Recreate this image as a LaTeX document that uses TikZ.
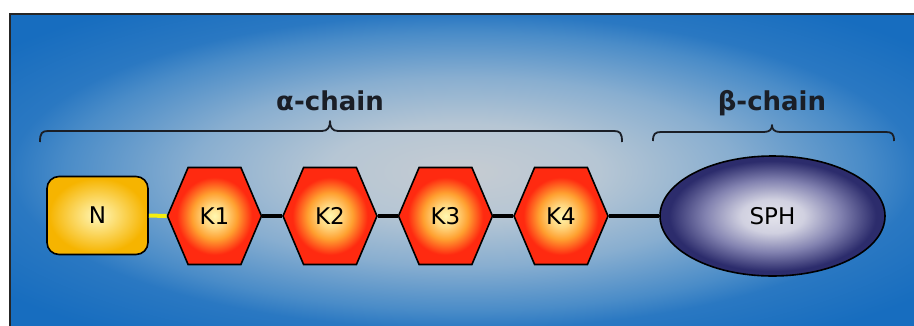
\documentclass[tikz,border=0pt]{standalone}
\usepackage{fontspec}
\setmainfont{DejaVu Sans}
\usetikzlibrary{shapes.symbols,shapes.geometric}

% colours
\definecolor{bgcentre}{HTML}{C6CCD2}
\definecolor{bglight}{HTML}{B6C6D4}
\definecolor{bgmid}{HTML}{88AED0}
\definecolor{bgblue}{HTML}{4A8CC8}
\definecolor{bgdeep}{HTML}{2A78C2}
\definecolor{bgedge}{HTML}{176DBF}
\definecolor{kin}{HTML}{FFF8B0}
\definecolor{kmid}{HTML}{FFA030}
\definecolor{kout}{HTML}{FF2A10}
\definecolor{nin}{HTML}{FFF7B8}
\definecolor{nout}{HTML}{F6B400}
\definecolor{sin}{HTML}{E4E4EC}
\definecolor{smid}{HTML}{8282B0}
\definecolor{sout}{HTML}{2C2C6C}
\definecolor{ink}{HTML}{1A1E26}
\definecolor{linkyellow}{HTML}{F4EE10}

% shadings (the path's bounding box edge sits at 25bp)
\pgfdeclareradialshading{bgshade}{\pgfpoint{0bp}{0bp}}{%
  color(0bp)=(bgcentre); color(7.5bp)=(bglight);
  color(15bp)=(bgmid); color(22bp)=(bgblue); color(25bp)=(bgdeep);
  color(32bp)=(bgedge); color(50bp)=(bgedge)}
\pgfdeclareradialshading{kringle}{\pgfpoint{0bp}{0bp}}{%
  color(0bp)=(kin); color(6bp)=(kin!60!kmid); color(12bp)=(kmid);
  color(20bp)=(kout); color(50bp)=(kout)}
\pgfdeclareradialshading{nshade}{\pgfpoint{0bp}{0bp}}{%
  color(0bp)=(nin); color(12bp)=(nin!50!nout); color(24bp)=(nout);
  color(50bp)=(nout)}
\pgfdeclareradialshading{sphshade}{\pgfpoint{0bp}{0bp}}{%
  color(0bp)=(sin); color(7bp)=(sin!80!smid); color(15bp)=(smid);
  color(23bp)=(sout); color(50bp)=(sout)}

\tikzset{
  domainbox/.style={draw=black, line width=1.6pt, inner sep=0pt,
    font=\fontsize{23}{23}\selectfont, text=black},
  kringlebox/.style={domainbox, signal, signal to=east and west,
    signal pointer angle=134, minimum width=94pt, minimum height=97pt,
    shading=kringle},
  nbox/.style={domainbox, rectangle, rounded corners=12pt,
    minimum width=101pt, minimum height=78pt, shading=nshade},
  sphbox/.style={domainbox, ellipse, minimum width=225pt,
    minimum height=120pt, shading=sphshade},
  link/.style={line width=4pt, black},
  ylink/.style={line width=4pt, linkyellow},
  chainbrace/.style={line width=1.8pt, ink, line join=round},
  chainlabel/.style={font=\bfseries\fontsize{26}{26}\selectfont,
    text=ink, anchor=base, inner sep=0pt},
}

\begin{document}
\begin{tikzpicture}[x=1pt, y=-1pt]
  \useasboundingbox (0,0) rectangle (914,325);

  % panel
  \shade[shading=bgshade] (10,14) rectangle (918,329);
  \draw[line width=2pt, black!85] (10,329) -- (10,14) -- (918,14);

  % chain labels
  \node[chainlabel] (alpha) at (330,110) {α-chain};
  \node[chainlabel] (beta) at (772,110) {β-chain};

  % braces
  \draw[chainbrace] (40,142) .. controls (40,133) and (42,131) .. (48,131)
    -- (322,131) .. controls (328,131) and (330,127) .. (330,121)
    .. controls (330,127) and (332,131) .. (338,131)
    -- (614,131) .. controls (620,131) and (622,133) .. (622,142);
  \draw[chainbrace] (653,141) .. controls (653,134) and (655,132) .. (661,132)
    -- (764,132) .. controls (770,132) and (772,129) .. (772,125)
    .. controls (772,129) and (774,132) .. (780,132)
    -- (886,132) .. controls (892,132) and (894,134) .. (894,141);

  % domains
  \node[nbox] (N) at (97.5,215.5) {N};
  \node[kringlebox] (K1) at (214.5,216) {K1};
  \node[kringlebox] (K2) at (330,216) {K2};
  \node[kringlebox] (K3) at (445.5,216) {K3};
  \node[kringlebox] (K4) at (561,216) {K4};
  \node[sphbox] (SPH) at (772.5,216) {SPH};

  % linkers
  \draw[ylink] (N.east) -- (K1.west);
  \draw[link] (K1.east) -- (K2.west);
  \draw[link] (K2.east) -- (K3.west);
  \draw[link] (K3.east) -- (K4.west);
  \draw[link] (K4.east) -- (SPH.west);
\end{tikzpicture}
\end{document}
